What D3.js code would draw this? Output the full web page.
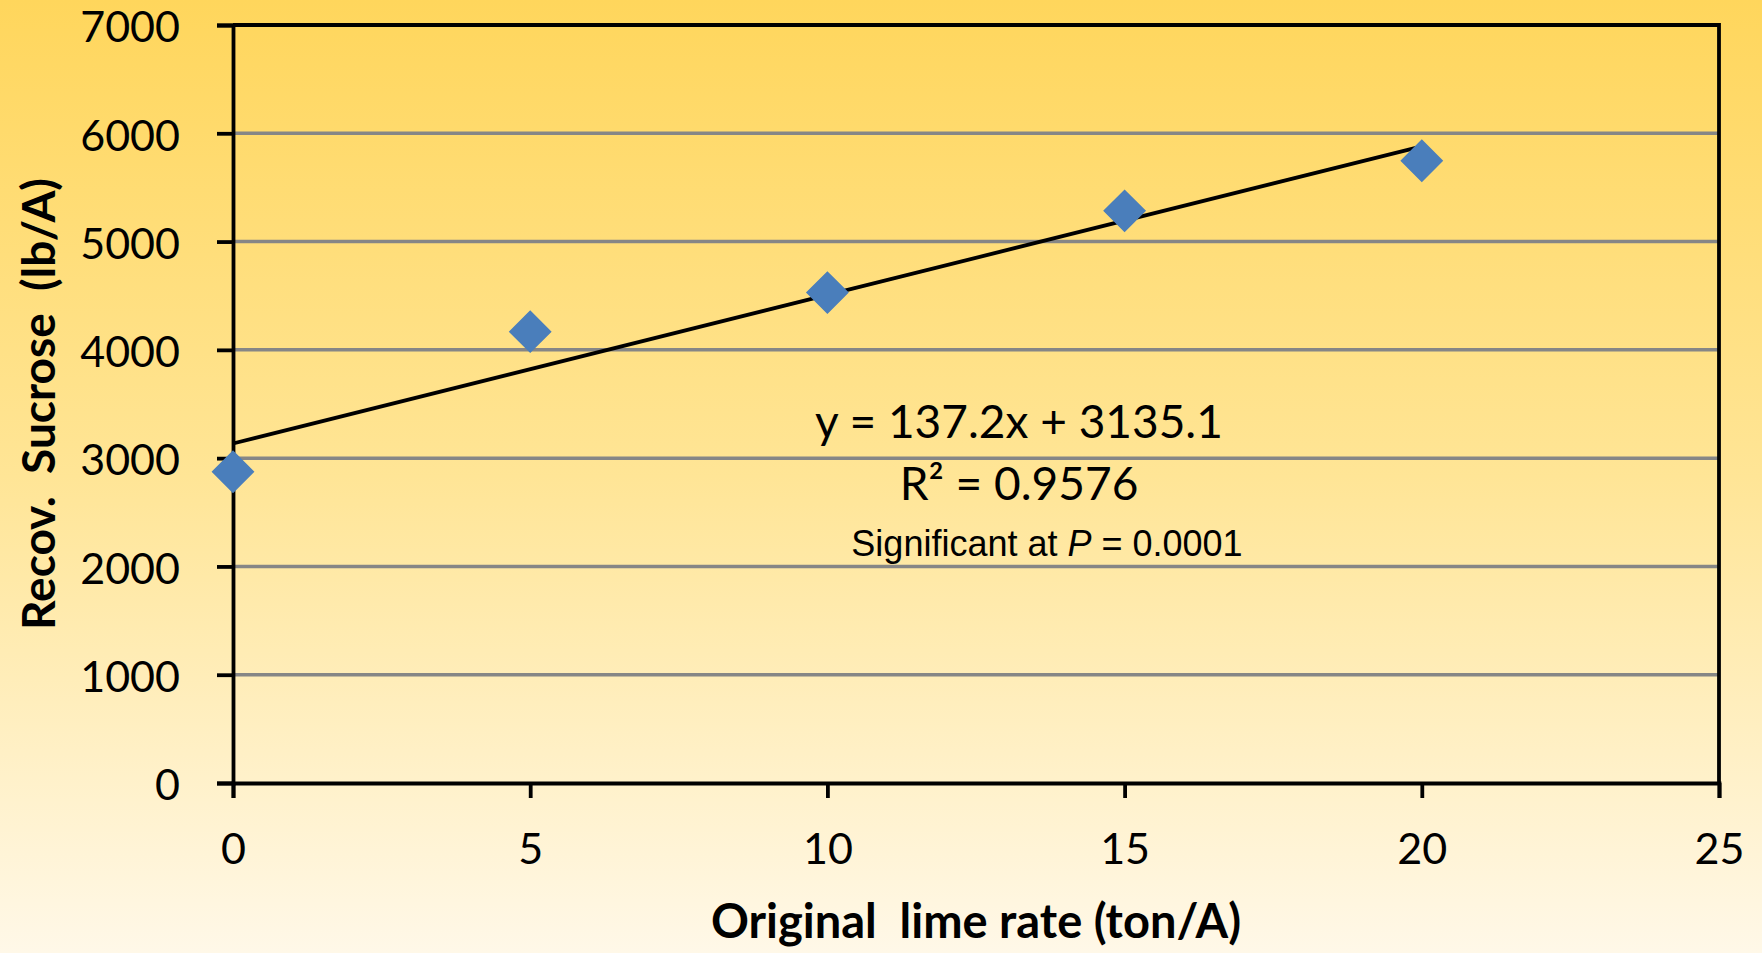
<!DOCTYPE html>
<html>
<head>
<meta charset="utf-8">
<script src="https://cdn.jsdelivr.net/npm/d3@7"></script>
<style>
  html, body { margin: 0; padding: 0; overflow: hidden; }
  svg { display: block; }
  text { fill: #000; }
</style>
</head>
<body>
<svg id="chart" width="1762" height="953"></svg>
<script>
'use strict';
// Data
const limeRates = [0, 5, 10, 15, 20];
const sucrose = [2874, 4168, 4529, 5284, 5746];
const xTicks = [0, 5, 10, 15, 20, 25];
const yTicks = [0, 1000, 2000, 3000, 4000, 5000, 6000, 7000];
const trendSlope = 137.2;
const trendIntercept = 3135.1;
const trendRange = [0, 20];
const eqLines = ['y = 137.2x + 3135.1', 'R² = 0.9576'];

const W = 1762, H = 953;
const margin = {top: 25, right: 43, bottom: 170, left: 233};
const svg = d3.select('#chart');

// Background gradient
const defs = svg.append('defs');
const grad = defs.append('linearGradient').attr('id', 'bg')
  .attr('x1', 0).attr('y1', 0).attr('x2', 0).attr('y2', 1);
grad.append('stop').attr('offset', '0%').attr('stop-color', '#ffd65c');
grad.append('stop').attr('offset', '50%').attr('stop-color', '#ffe596');
grad.append('stop').attr('offset', '100%').attr('stop-color', '#fff8e8');
svg.append('rect').attr('width', W).attr('height', H).attr('fill', 'url(#bg)');

const x = d3.scaleLinear().domain([0, 25]).range([margin.left, W - margin.right]);
const y = d3.scaleLinear().domain([0, 7000]).range([H - margin.bottom, margin.top]);

// Gridlines
svg.append('g').selectAll('line').data(yTicks.filter(d => d > 0 && d < 7000))
  .enter().append('line')
  .attr('x1', x(0)).attr('x2', x(25))
  .attr('y1', d => y(d)).attr('y2', d => y(d))
  .attr('stroke', '#868686').attr('stroke-width', 3.5);

// Frame (top + right)
svg.append('path')
  .attr('d', `M${x(0)},${y(7000)}H${x(25)}V${y(0)}`)
  .attr('fill', 'none').attr('stroke', '#000').attr('stroke-width', 3.8);

// Axes
const yAxis = svg.append('g').attr('transform', `translate(${x(0)},0)`)
  .call(d3.axisLeft(y).tickValues(yTicks).tickSize(16).tickPadding(37).tickFormat(d3.format('d')));
const xAxis = svg.append('g').attr('transform', `translate(0,${y(0)})`)
  .call(d3.axisBottom(x).tickValues(xTicks).tickSize(15).tickPadding(35).tickFormat(d3.format('d')));
[yAxis, xAxis].forEach(ax => {
  ax.select('.domain').attr('stroke', '#000').attr('stroke-width', 3.8);
  ax.selectAll('.tick line').attr('stroke', '#000').attr('stroke-width', 3.8);
  ax.selectAll('.tick text')
    .style('font-family', 'Lato, sans-serif').style('font-size', '43px').attr('fill', '#000');
});
yAxis.selectAll('.tick text').attr('dy', '0.39em');
xAxis.selectAll('.tick text').attr('dy', '0.71em');

// Trendline
svg.append('line')
  .attr('x1', x(trendRange[0])).attr('y1', y(trendSlope * trendRange[0] + trendIntercept))
  .attr('x2', x(trendRange[1])).attr('y2', y(trendSlope * trendRange[1] + trendIntercept))
  .attr('stroke', '#000').attr('stroke-width', 3.8);

// Points
const diamond = d3.symbol().type(d3.symbolSquare).size(830);
svg.append('g').selectAll('path').data(limeRates)
  .enter().append('path')
  .attr('d', diamond)
  .attr('transform', (d, i) => `translate(${x(d)},${y(sucrose[i])}) rotate(45)`)
  .attr('fill', '#4a7ebb').attr('stroke', '#4a7ebb').attr('stroke-width', 1.5);

// Equation labels
svg.append('g').selectAll('text').data(eqLines)
  .enter().append('text')
  .attr('x', 1019).attr('y', (d, i) => 438 + i * 62)
  .attr('text-anchor', 'middle')
  .style('font-family', 'Lato, sans-serif').style('font-size', '46px')
  .style('white-space', 'pre')
  .text(d => d);

const sig = svg.append('text').attr('x', 1047).attr('y', 556)
  .attr('text-anchor', 'middle')
  .style('font-family', '"Liberation Sans", Arial, sans-serif').style('font-size', '36px');
sig.append('tspan').text('Significant at ');
sig.append('tspan').style('font-style', 'italic').text('P');
sig.append('tspan').text(' = 0.0001');

// Axis titles
svg.append('text')
  .attr('transform', `translate(55,${(y(0) + y(7000)) / 2}) rotate(-90)`)
  .attr('text-anchor', 'middle')
  .style('font-family', 'Lato, sans-serif').style('font-size', '46px').style('font-weight', 'bold')
  .style('white-space', 'pre')
  .text('Recov.  Sucrose  (lb/A)');

svg.append('text')
  .attr('x', (x(0) + x(25)) / 2).attr('y', 938)
  .attr('text-anchor', 'middle')
  .style('font-family', 'Lato, sans-serif').style('font-size', '47px').style('font-weight', 'bold')
  .style('white-space', 'pre')
  .text('Original  lime rate (ton/A)');
</script>
</body>
</html>
